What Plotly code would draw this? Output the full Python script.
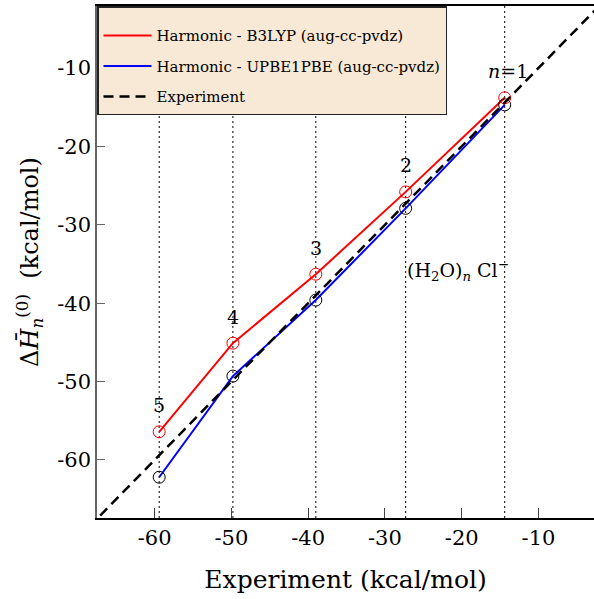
import plotly.graph_objects as go

# Data (kcal/mol)
n_labels = ["5", "4", "3", "2"]
experiment = [-59.4, -49.8, -39.0, -27.3, -14.4]
b3lyp = [-56.4, -45.1, -36.3, -25.8, -13.8]
upbe1pbe = [-62.2, -49.3, -39.6, -27.9, -14.7]
label_y = [-53.0, -41.8, -33.0, -22.4]
diag = [-70.0, 0.0]

FONT = "DejaVu Serif"
RED, BLUE, BLACK = "#ff0000", "#0000ff", "#000000"

fig = go.Figure()

fig.add_trace(go.Scatter(
    x=experiment, y=b3lyp, mode="lines+markers", showlegend=False,
    line=dict(color=RED, width=2),
    marker=dict(symbol="circle-open", size=12, color=RED, line=dict(width=1)),
))
fig.add_trace(go.Scatter(
    x=experiment, y=upbe1pbe, mode="lines+markers", showlegend=False,
    line=dict(color=BLUE, width=2),
    marker=dict(symbol="circle-open", size=12, color=BLACK, line=dict(width=1)),
))
fig.add_trace(go.Scatter(
    x=diag, y=diag, mode="lines", showlegend=False,
    line=dict(color=BLACK, width=2.5, dash="10px,6px"),
))
# legend entries (lines only, as in the reference)
fig.add_trace(go.Scatter(x=[None], y=[None], mode="lines", legendgroup="a",
                         name="Harmonic - B3LYP (aug-cc-pvdz)", line=dict(color=RED, width=2)))
fig.add_trace(go.Scatter(x=[None], y=[None], mode="lines", legendgroup="b",
                         name="Harmonic - UPBE1PBE (aug-cc-pvdz)", line=dict(color=BLUE, width=2)))
fig.add_trace(go.Scatter(x=[None], y=[None], mode="lines", legendgroup="c",
                         name="Experiment", line=dict(color=BLACK, width=2.5, dash="10px,6px")))

for xv in experiment:
    fig.add_vline(x=xv, line=dict(color=BLACK, width=1, dash="2px,3px"), layer="below")

for xv, yv, t in zip(experiment[:4], label_y, n_labels):
    fig.add_annotation(x=xv, y=yv, text=t, showarrow=False,
                       font=dict(family=FONT, size=19, color="#000"))
fig.add_annotation(x=-14.0, y=-10.4, text="<i>n</i>=1", showarrow=False,
                   font=dict(family=FONT, size=19, color="#000"))
fig.add_annotation(x=-27.4, y=-35.8, text="(H<sub>2</sub>O)<sub><i>n</i></sub> Cl<sup>−</sup>",
                   showarrow=False, xanchor="left",
                   font=dict(family=FONT, size=19, color="#000"))

fig.update_layout(
    width=594, height=599,
    margin=dict(l=97, r=0, t=6, b=81),
    paper_bgcolor="white", plot_bgcolor="white",
    font=dict(family=FONT, color="#000"),
    showlegend=True,
    legend=dict(
        x=0, y=1, xanchor="left", yanchor="top",
        bgcolor="#F8E9D6", bordercolor="#222", borderwidth=1.5,
        font=dict(family=FONT, size=15, color="#000"),
        title=dict(text=" ", font=dict(size=9)),
        tracegroupgap=8, traceorder="grouped", itemwidth=48,
    ),
    xaxis=dict(
        range=[-67.5, -2.77], tickvals=[-60, -50, -40, -30, -20, -10],
        ticktext=["-60", "-50", "-40", "-30", "-20", "-10"],
        ticks="inside", ticklen=10, tickwidth=1, tickcolor="#444",
        showline=True, linecolor="#000", linewidth=1.5, mirror=True,
        showgrid=False, zeroline=False,
        tickfont=dict(family=FONT, size=21),
        title=dict(text="Experiment (kcal/mol)", font=dict(family=FONT, size=25), standoff=22),
    ),
    yaxis=dict(
        range=[-67.4, -2.09], tickvals=[-60, -50, -40, -30, -20, -10],
        ticktext=["-60", "-50", "-40", "-30", "-20", "-10"],
        ticks="inside", ticklen=8, tickwidth=1, tickcolor="#666",
        showline=True, linecolor="#666", linewidth=1.5, mirror=False,
        showgrid=False, zeroline=False,
        tickfont=dict(family=FONT, size=21),
        title=dict(text="Δ<i>H̄</i><sub><i>n</i></sub><sup>(0)</sup>  (kcal/mol)",
                   font=dict(family=FONT, size=24), standoff=12),
    ),
)

fig.write_html("out.html")
